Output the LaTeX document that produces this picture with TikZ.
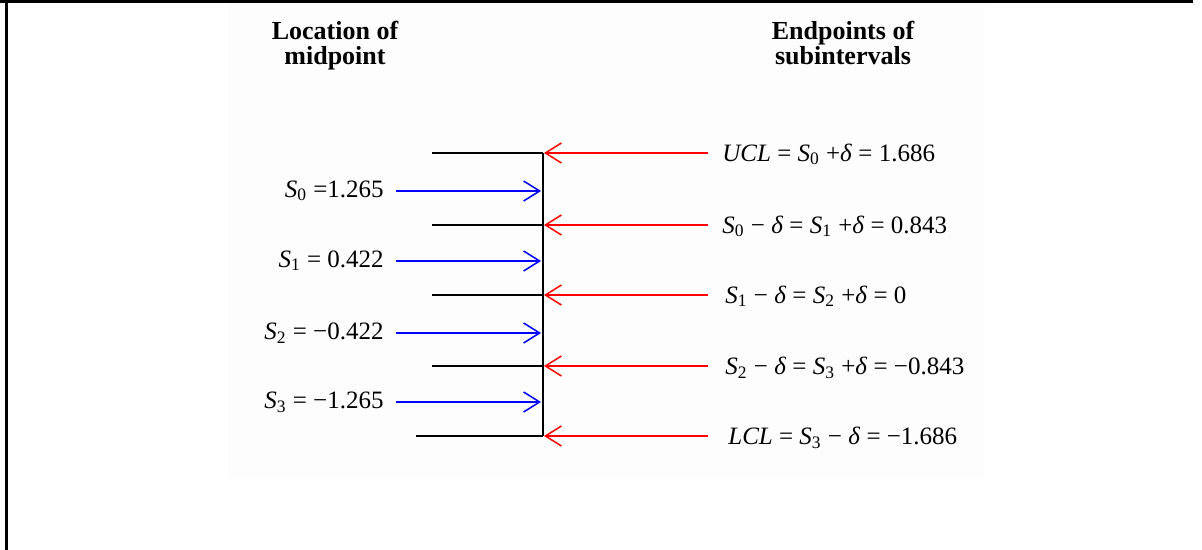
\documentclass[tikz,border=0pt]{standalone}
\usepackage{fontspec}
\setmainfont{Liberation Serif}
\usetikzlibrary{arrows.meta,positioning}
\definecolor{midblue}{HTML}{0000FF}
\definecolor{endred}{HTML}{FF0000}
\definecolor{panelgray}{HTML}{FDFDFD}
\newcommand{\dlt}{\textit{δ}}
\newcommand{\Ss}[1]{\textit{S}\textsubscript{#1}}
\tikzset{
  headbox/.style={font=\fontsize{13}{12.5}\selectfont\bfseries,align=center,inner sep=0pt},
  midlabel/.style={font=\fontsize{12.5}{13}\selectfont,anchor=east,inner sep=6pt,text height=8.4pt,text depth=2pt},
  endlabel/.style={font=\fontsize{12.5}{13}\selectfont,anchor=west,inner sep=7pt,text height=8.4pt,text depth=0pt},
  axisline/.style={line width=1pt},
  midarrow/.style={-{Straight Barb[length=8pt,width=10pt]},draw=midblue,line width=.75pt},
  endarrow/.style={-{Straight Barb[length=8pt,width=10pt]},draw=endred,line width=.75pt},
}

\begin{document}
\begin{tikzpicture}[x=0.5pt,y=-0.5pt]
  \useasboundingbox (0,0) rectangle (1202,550);
  \fill[panelgray] (228,3) rectangle (985,478);
  \draw[line width=1.3pt] (0,1.3) -- (1193,1.3);
  \draw[line width=1.1pt] (6.5,0) -- (6.5,550);
  % headings
  \node[headbox,anchor=north] (midhead) at (335,21) {Location of\\midpoint};
  \node[headbox,anchor=north] (endhead) at (843,21) {Endpoints of\\subintervals};
  % axis and ticks
  \coordinate (k0) at (543,153);
  \coordinate (k1) at (543,225);
  \coordinate (k2) at (543,295);
  \coordinate (k3) at (543,366);
  \coordinate (k4) at (543,436);
  \draw[axisline] (k0) -- (k4);
  \draw[axisline] (k0) -- (432,153);
  \draw[axisline] (k1) -- (432,225);
  \draw[axisline] (k2) -- (432,295);
  \draw[axisline] (k3) -- (432,366);
  \draw[axisline] (k4) -- (416,436);
  % midpoints
  \coordinate (m0) at (541,191);
  \coordinate (m1) at (541,261);
  \coordinate (m2) at (541,333);
  \coordinate (m3) at (541,402);
  \node[midlabel] (s0) at (396,191) {\Ss{0} =1.265};
  \node[midlabel] (s1) at (396,261) {\Ss{1} = 0.422};
  \node[midlabel] (s2) at (396,333) {\Ss{2} = −0.422};
  \node[midlabel] (s3) at (396,402) {\Ss{3} = −1.265};
  \draw[midarrow] (s0.east) -- (m0);
  \draw[midarrow] (s1.east) -- (m1);
  \draw[midarrow] (s2.east) -- (m2);
  \draw[midarrow] (s3.east) -- (m3);
  % endpoints
  \node[endlabel] (e0) at (708,153) {\textit{UCL} = \Ss{0} +\dlt{} = 1.686};
  \node[endlabel] (e1) at (708,225) {\Ss{0} − \dlt{} = \Ss{1} +\dlt{} = 0.843};
  \node[endlabel,inner xsep=8.5pt] (e2) at (708,295) {\Ss{1} − \dlt{} = \Ss{2} +\dlt{} = 0};
  \node[endlabel,inner xsep=8.5pt] (e3) at (708,366) {\Ss{2} − \dlt{} = \Ss{3} +\dlt{} = −0.843};
  \node[endlabel,inner xsep=10pt] (e4) at (708,436) {\textit{LCL} = \Ss{3} − \dlt{} = −1.686};
  \draw[endarrow,shorten >=.5pt] (e0.west) -- (k0);
  \draw[endarrow,shorten >=.5pt] (e1.west) -- (k1);
  \draw[endarrow,shorten >=.5pt] (e2.west) -- (k2);
  \draw[endarrow,shorten >=.5pt] (e3.west) -- (k3);
  \draw[endarrow,shorten >=.5pt] (e4.west) -- (k4);
\end{tikzpicture}
\end{document}
